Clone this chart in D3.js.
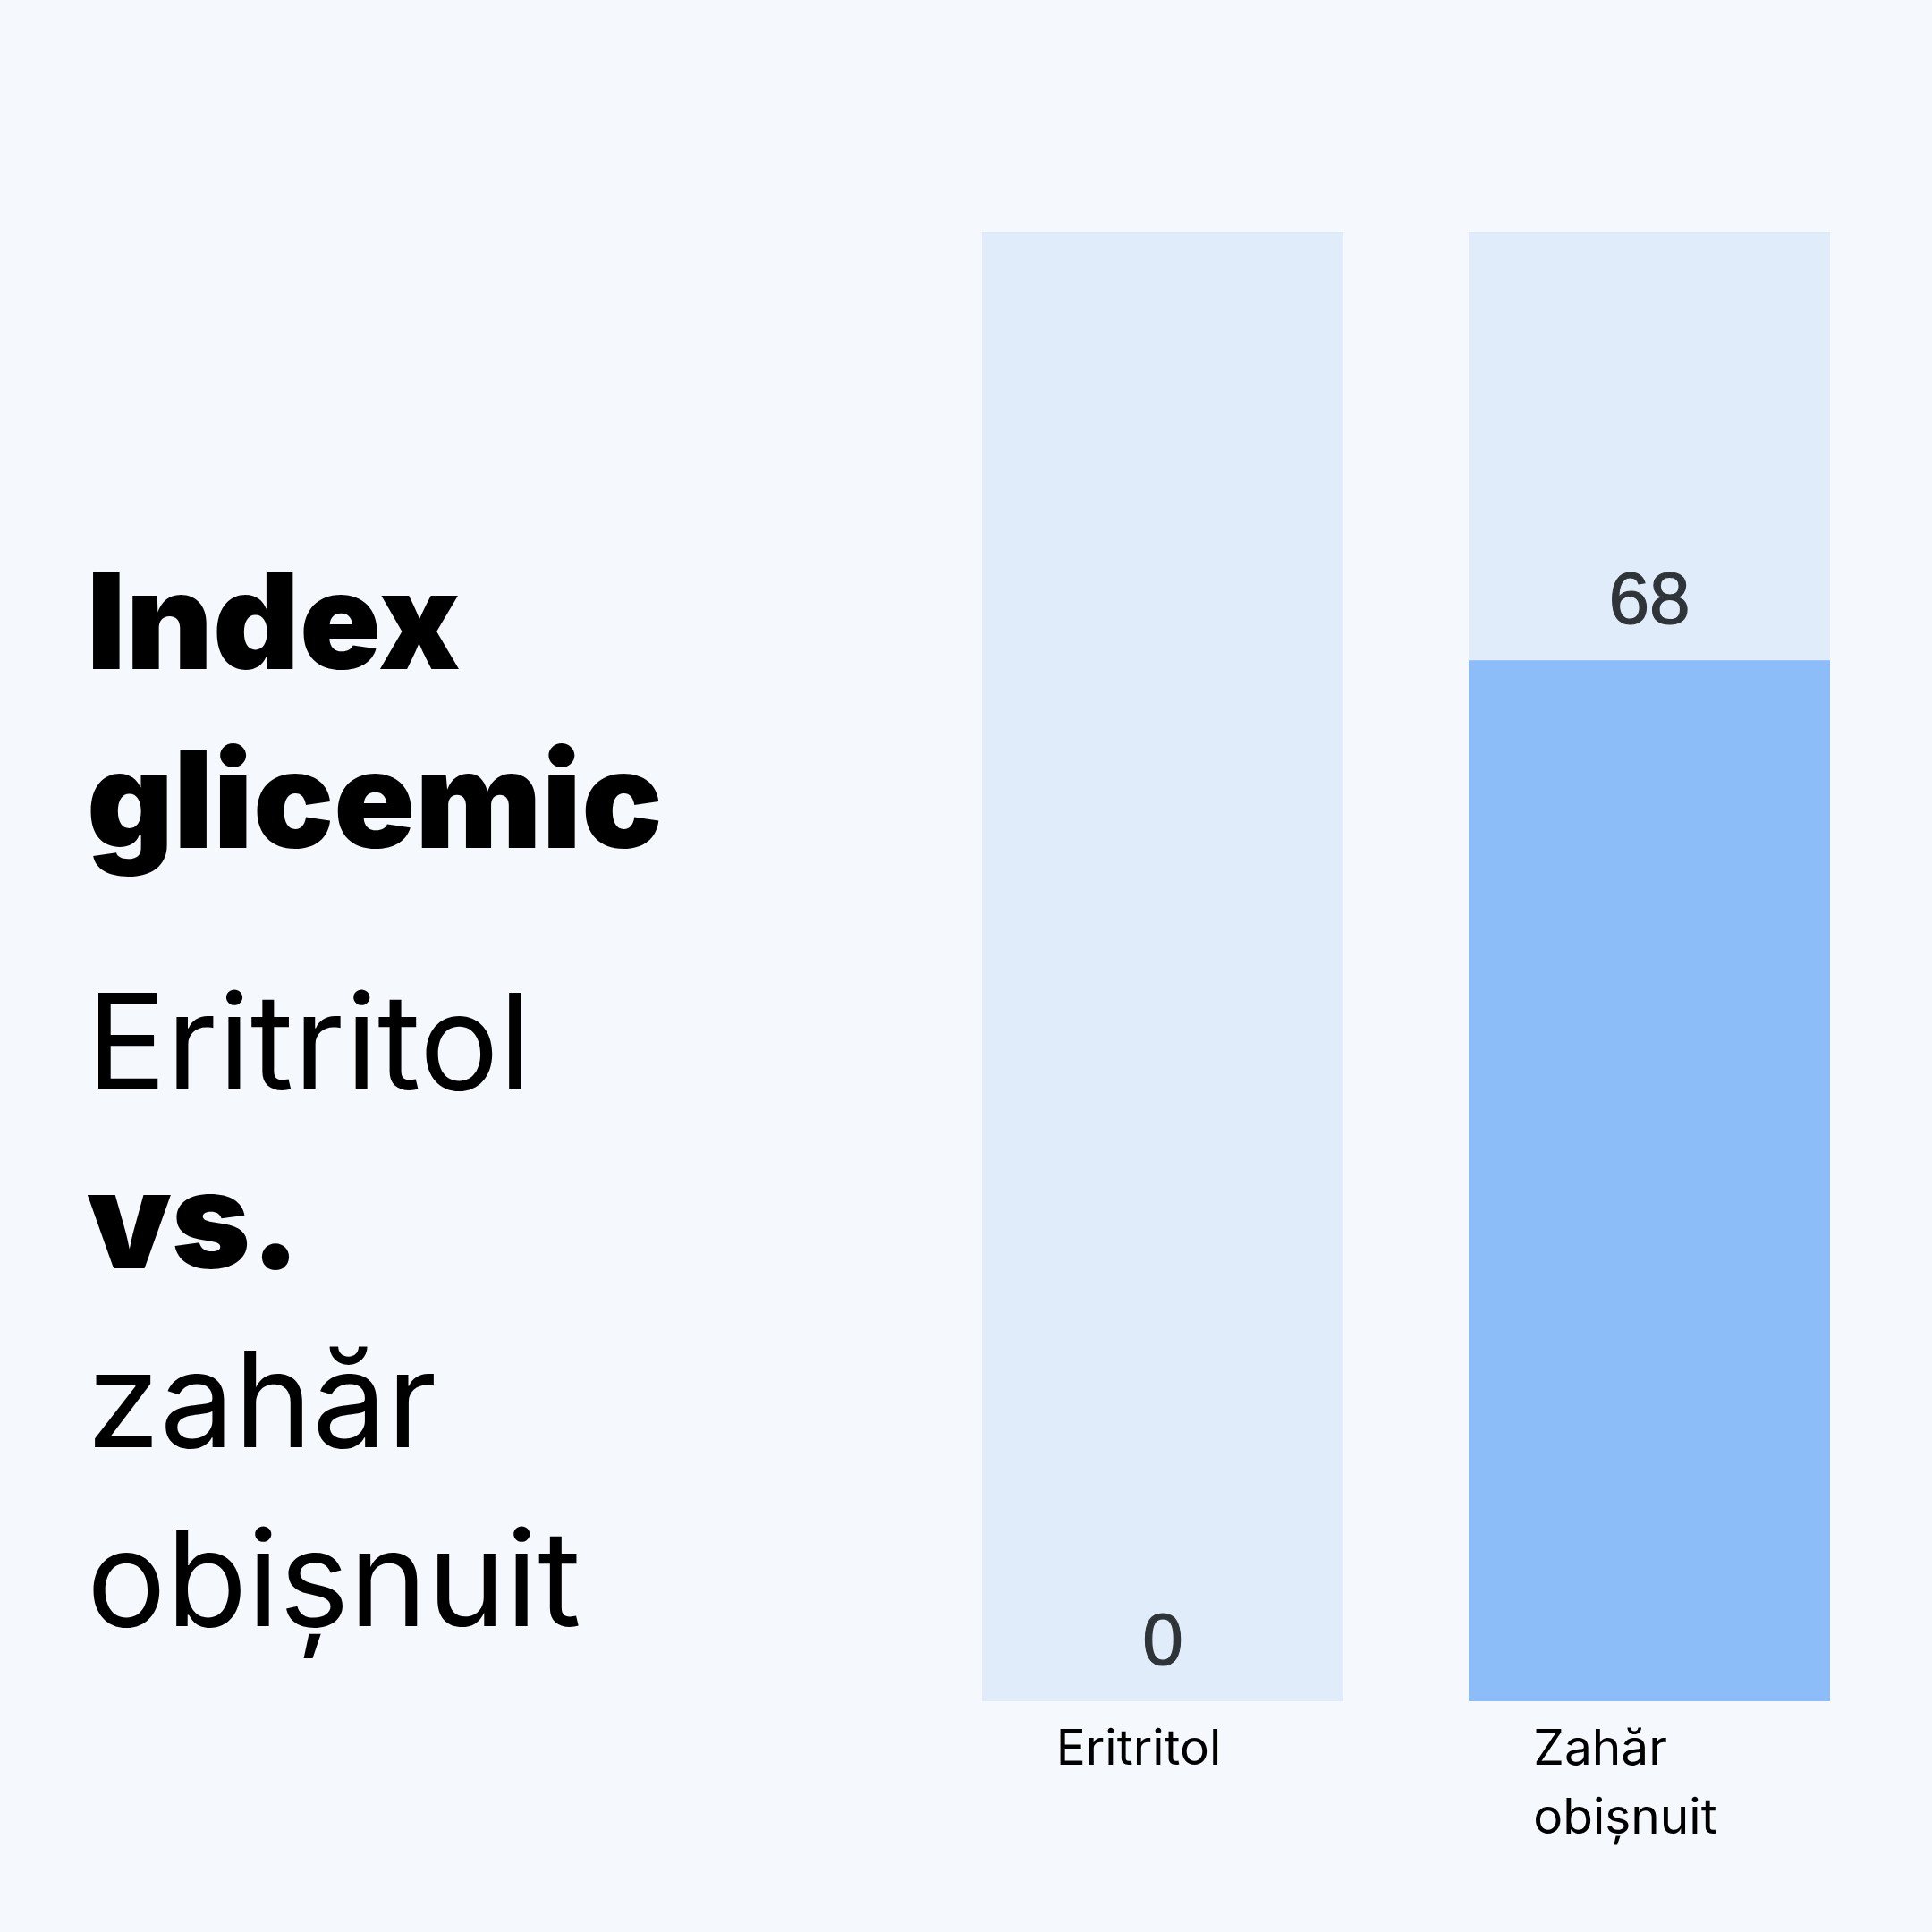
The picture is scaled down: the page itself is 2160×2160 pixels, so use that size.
<!DOCTYPE html>
<html>
<head>
<meta charset="utf-8">
<script src="https://cdn.jsdelivr.net/npm/d3@7"></script>
<style>
  html, body { margin: 0; padding: 0; background: #f5f9fe; }
  svg { display: block; }
</style>
</head>
<body>
<script>
// ---- data ----
const categories = ["Eritritol", "Zahăr obișnuit"];
const categoryLabelLines = [["Eritritol"], ["Zahăr", "obișnuit"]];
const values = [0, 68];
const valueDomain = [0, 96];
const titleLines = [
  { text: "Index", bold: true },
  { text: "glicemic", bold: true },
  { text: "Eritritol", bold: false },
  { text: "vs.", bold: true },
  { text: "zahăr", bold: false },
  { text: "obișnuit", bold: false }
];

const W = 2160, H = 2160;
const svg = d3.select("body").append("svg").attr("width", W).attr("height", H);
svg.append("rect").attr("width", W).attr("height", H).attr("fill", "#f5f9fe");

// ---- title block ----
const titleFont = "Inter, 'Noto Sans', sans-serif";
const tg = svg.append("g");
let baseY = 748;
titleLines.forEach((l, i) => {
  if (i > 0) baseY += (i === 2 ? 270 : 200);
  tg.append("text")
    .attr("x", 97)
    .attr("y", baseY)
    .attr("font-family", titleFont)
    .attr("font-size", l.bold ? 150 : 148)
    .attr("font-weight", l.bold ? 900 : 400)
    .attr("fill", "#000")
    .text(l.text);
});

// ---- chart ----
const x = d3.scaleBand().domain(categories).range([1098, 2046]).paddingInner(140 / 544).paddingOuter(0);
const y = d3.scaleLinear().domain(valueDomain).range([1902, 259]);

const data = categories.map((c, i) => ({ c, v: values[i], lines: categoryLabelLines[i] }));

// background tracks
svg.append("g").selectAll("rect").data(data).join("rect")
  .attr("x", d => x(d.c))
  .attr("width", x.bandwidth())
  .attr("y", y(valueDomain[1]))
  .attr("height", y(0) - y(valueDomain[1]))
  .attr("fill", "#e1ecfa");

// value bars
svg.append("g").selectAll("rect").data(data).join("rect")
  .attr("x", d => x(d.c))
  .attr("width", x.bandwidth())
  .attr("y", d => y(d.v))
  .attr("height", d => y(0) - y(d.v))
  .attr("fill", "#8dbdf8");

// value labels
svg.append("g").selectAll("text").data(data).join("text")
  .attr("x", d => x(d.c) + x.bandwidth() / 2)
  .attr("y", d => y(d.v) - 41)
  .attr("text-anchor", "middle")
  .attr("font-family", "'Liberation Sans', Arial, sans-serif")
  .attr("font-size", 82)
  .attr("fill", "#2f3438")
  .attr("stroke", "#2f3438")
  .attr("stroke-width", 1.2)
  .text(d => d.v);

// category labels (left-aligned block, centred slightly left of bar centre)
const lab = svg.append("g");
data.forEach(d => {
  const g = lab.append("g");
  const texts = d.lines.map((t, i) => g.append("text")
    .attr("y", 1973 + i * 77)
    .attr("font-family", titleFont)
    .attr("font-size", 55)
    .attr("fill", "#000")
    .text(t));
  const maxW = d3.max(texts, t => t.node().getComputedTextLength());
  const cx = x(d.c) + x.bandwidth() / 2 - 27;
  texts.forEach(t => t.attr("x", cx - maxW / 2));
});
</script>
</body>
</html>
